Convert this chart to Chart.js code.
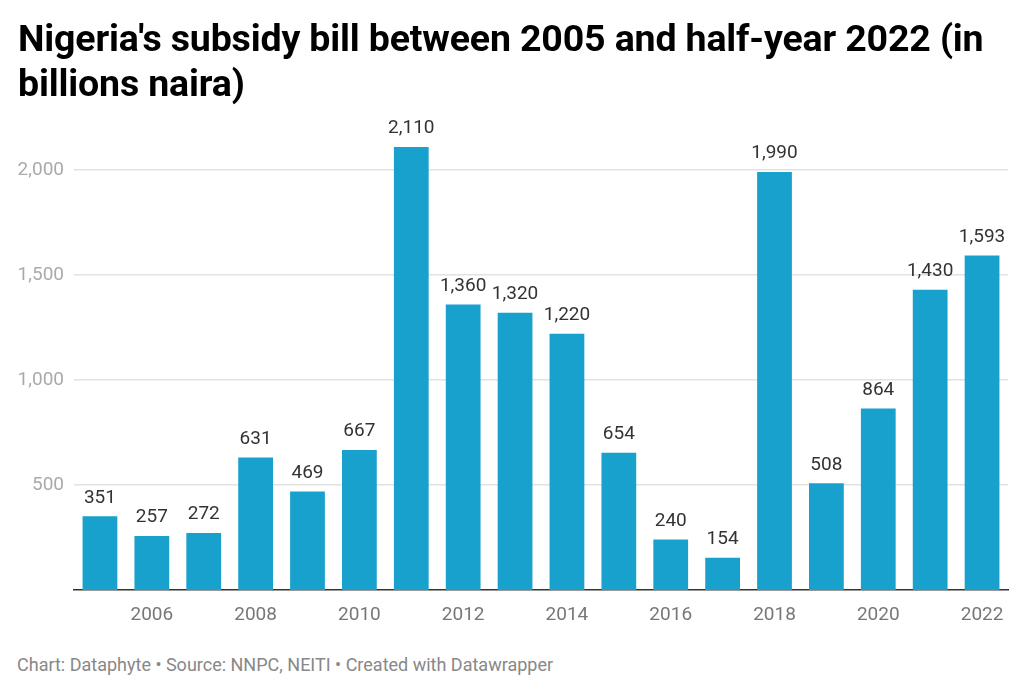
<!DOCTYPE html>
<html>
<head>
<meta charset="utf-8">
<script src="https://cdn.jsdelivr.net/npm/chart.js@4"></script>
<style>
  body { margin: 0; background: #fff; font-family: Roboto, "Noto Sans", sans-serif; }
  #wrap { position: relative; width: 1024px; height: 694px; overflow: hidden; }
  #title { position: absolute; left: 18px; top: 16px; width: 1000px; margin: 0;
           font-size: 37.5px; font-weight: 700; line-height: 45px; color: #000; letter-spacing: -0.15px; }
  #foot { position: absolute; left: 17px; top: 654px; font-size: 18px; color: #888; }
  canvas { position: absolute; left: 0; top: 0; }
</style>
</head>
<body>
<div id="wrap">
  <canvas id="subsidyChart" width="1024" height="640"></canvas>
  <h1 id="title">Nigeria's subsidy bill between 2005 and half-year 2022 (in billions naira)</h1>
  <div id="foot">Chart: Dataphyte • Source: NNPC, NEITI • Created with Datawrapper</div>
</div>
<script>
// subsidy bill, billions naira
const years = ['2005','2006','2007','2008','2009','2010','2011','2012','2013','2014',
               '2015','2016','2017','2018','2019','2020','2021','2022'];
const subsidy = [351, 257, 272, 631, 469, 667, 2110, 1360, 1320, 1220,
                 654, 240, 154, 1990, 508, 864, 1430, 1593];
const yTicks = [500, 1000, 1500, 2000];

const fmt = v => v.toLocaleString('en-US');

// value labels on top of the bars
const barLabels = {
    id: 'barLabels',
    afterDatasetsDraw(chart) {
        const ctx = chart.ctx;
        const meta = chart.getDatasetMeta(0);
        ctx.save();
        ctx.font = '19px Roboto, sans-serif';
        ctx.fillStyle = '#333';
        ctx.textAlign = 'center';
        ctx.textBaseline = 'bottom';
        meta.data.forEach((bar, i) => {
            ctx.fillText(fmt(subsidy[i]), bar.x, bar.y - 9);
        });
        ctx.restore();
    }
};

const ctx = document.getElementById('subsidyChart').getContext('2d');
new Chart(ctx, {
    type: 'bar',
    data: {
        labels: years,
        datasets: [{
            data: subsidy,
            backgroundColor: '#18a1cd',
            categoryPercentage: 1,
            barPercentage: 0.67
        }]
    },
    plugins: [barLabels],
    options: {
        responsive: false,
        animation: false,
        layout: { padding: { top: 128, right: 16, bottom: 10, left: 0 } },
        plugins: {
            legend: { display: false },
            tooltip: { enabled: false }
        },
        scales: {
            x: {
                grid: { display: false },
                border: { display: true, color: '#333', width: 1.5 },
                afterFit: s => { s.height = 40; },
                ticks: {
                    autoSkip: false,
                    maxRotation: 0,
                    padding: 6,
                    color: '#777',
                    font: { family: 'Roboto', size: 19 },
                    callback: (v, i) => (Number(years[i]) % 2 === 0 ? years[i] : '')
                }
            },
            y: {
                min: 0,
                max: 2200,
                afterFit: s => { s.width = 74; },
                afterBuildTicks: s => { s.ticks = yTicks.map(v => ({ value: v })); },
                border: { display: false },
                grid: { color: '#e2e2e2', lineWidth: 1.5, drawTicks: false },
                ticks: {
                    padding: 10,
                    color: '#aaa',
                    font: { family: 'Roboto', size: 19 },
                    callback: v => fmt(v)
                }
            }
        }
    }
});
</script>
</body>
</html>
